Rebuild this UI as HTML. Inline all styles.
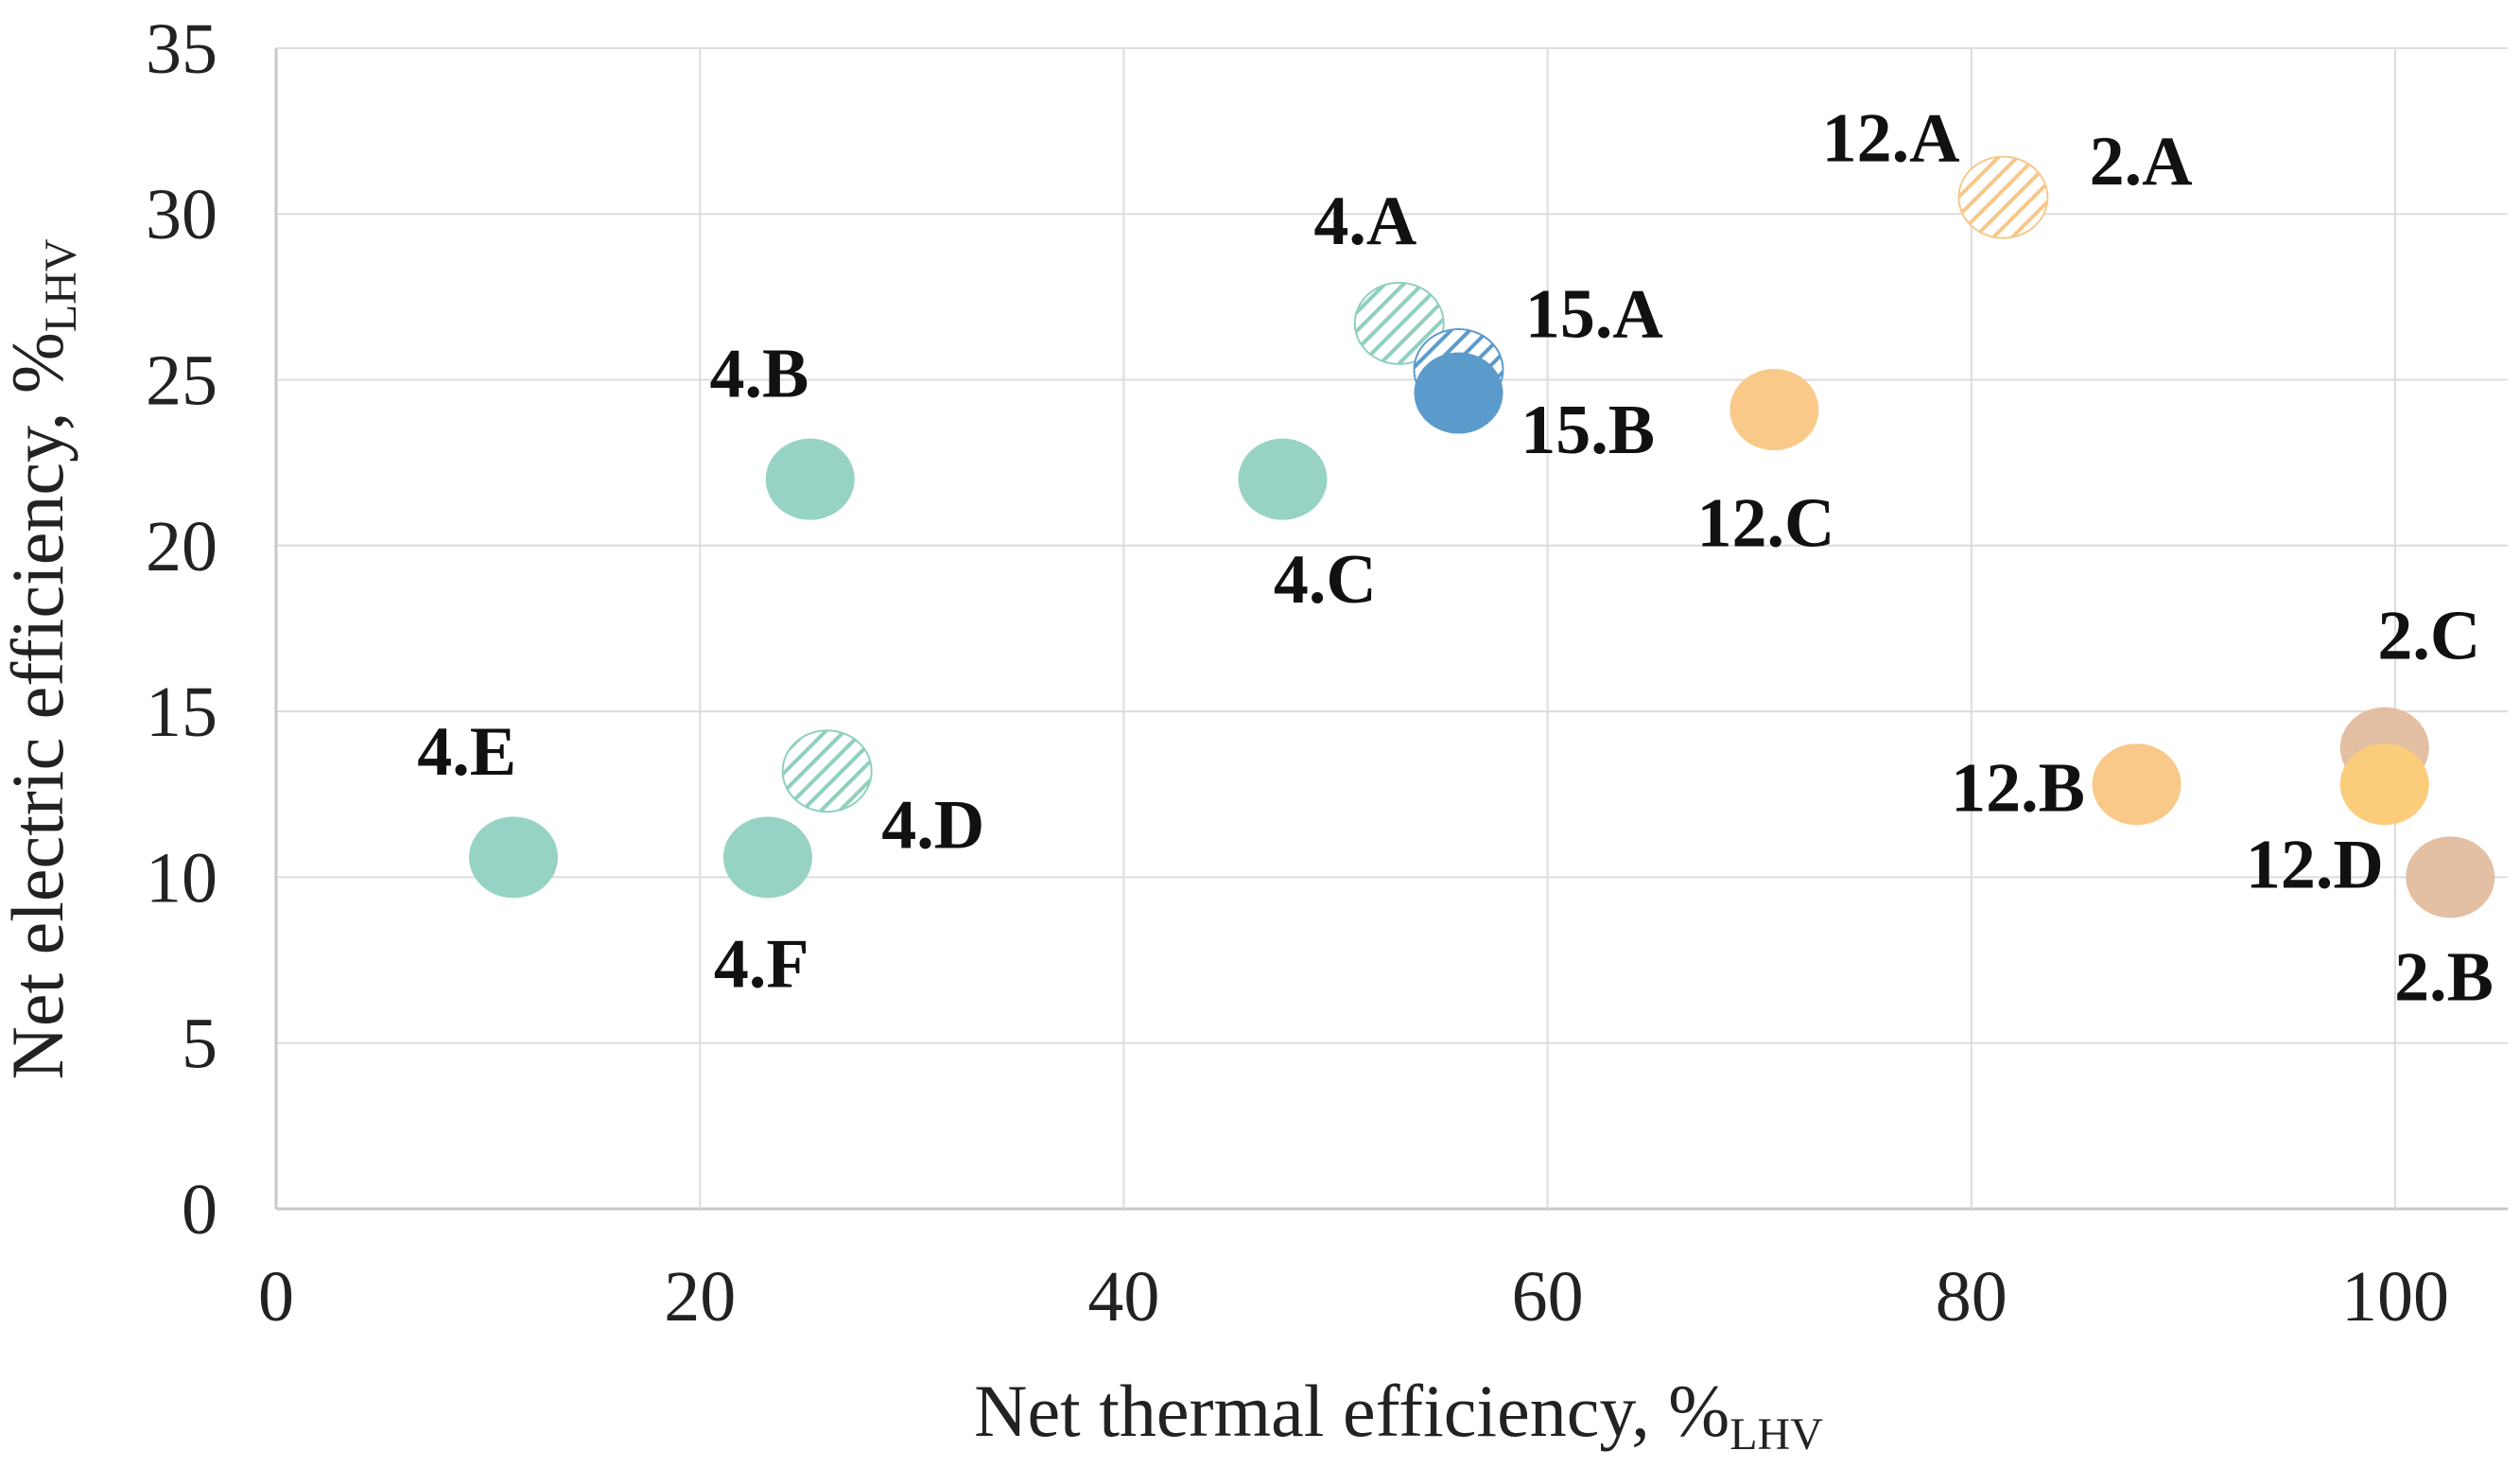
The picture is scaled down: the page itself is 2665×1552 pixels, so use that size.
<!DOCTYPE html>
<html><head><meta charset="utf-8"><style>
html,body{margin:0;padding:0;background:#fff;}
svg{display:block;font-family:"Liberation Serif",serif;}
</style></head><body>
<svg id="chart" width="2665" height="1552" viewBox="0 0 2665 1552" xmlns="http://www.w3.org/2000/svg">
<defs>
<pattern id="hatch-teal" patternUnits="userSpaceOnUse" width="14" height="14" patternTransform="rotate(45)"><rect width="14" height="14" fill="#fff"/><rect x="0" y="0" width="4" height="14" fill="#8fd0bf"/></pattern>
<pattern id="hatch-blue" patternUnits="userSpaceOnUse" width="14" height="14" patternTransform="rotate(45)"><rect width="14" height="14" fill="#fff"/><rect x="0" y="0" width="4" height="14" fill="#5b9bcb"/></pattern>
<pattern id="hatch-orange" patternUnits="userSpaceOnUse" width="14" height="14" patternTransform="rotate(45)"><rect width="14" height="14" fill="#fff"/><rect x="0" y="0" width="4" height="14" fill="#f6c88a"/></pattern>
</defs>
<g id="grid"></g>
<g id="points"></g>
<g id="labels"></g>
<text x="1479" y="1518" font-size="78" text-anchor="middle" fill="#222">Net thermal efficiency,  %<tspan font-size="48" dy="14">LHV</tspan></text>
<text transform="translate(66,697) rotate(-90)" font-size="78" text-anchor="middle" fill="#222">Net electric efficiency,  %<tspan font-size="48" dy="14">LHV</tspan></text>
</svg>
<script>
const xTicks = [0, 20, 40, 60, 80, 100];
const yTicks = [0, 5, 10, 15, 20, 25, 30, 35];
const names = ["4.E","4.F","4.D","4.B","4.C","4.A","15.A","15.B","12.C","12.A","12.B","2.C","12.D","2.B"];
const xVals = [11.2, 23.2, 26.0, 25.2, 47.5, 53.0, 55.8, 55.8, 70.7, 81.5, 87.8, 99.5, 99.5, 102.6];
const yVals = [10.6, 10.6, 13.2, 22.0, 22.0, 26.7, 25.3, 24.6, 24.1, 30.5, 12.8, 13.9, 12.8, 10.0];
const fills = ["#97d3c4","#97d3c4","url(#hatch-teal)","#97d3c4","#97d3c4","url(#hatch-teal)","url(#hatch-blue)","#5b9bcb","#f9c989","url(#hatch-orange)","#f9c989","#e3bfa3","#fbcd7a","#e3bfa3"];
const strokes = ["none","none","#8fd0bf","none","none","#8fd0bf","#5b9bcb","none","none","#f6c88a","none","none","none","none"];
const labelNames = ["4.E","4.F","4.D","4.B","4.C","4.A","15.A","15.B","12.C","12.A","2.A","12.B","2.C","12.D","2.B"];
const labelX = [9.0, 22.9, 31.0, 22.8, 49.5, 51.4, 62.2, 61.9, 70.3, 76.2, 88.0, 82.2, 101.6, 96.2, 102.3];
const labelY = [13.8, 7.4, 11.6, 25.2, 19.0, 29.8, 27.0, 23.5, 20.7, 32.3, 31.6, 12.7, 17.3, 10.4, 7.0];

const NS = "http://www.w3.org/2000/svg";
const X0 = 292, XS = 22.41, Y0 = 1278, YS = 35.06, XR = 2652;
const sx = v => X0 + v * XS;
const sy = v => Y0 - v * YS;
function mk(tag, attrs, parent) {
  const e = document.createElementNS(NS, tag);
  for (const k in attrs) e.setAttribute(k, attrs[k]);
  parent.appendChild(e);
  return e;
}
const grid = document.getElementById('grid');
yTicks.forEach(t => {
  const l = mk('line', {x1: X0, x2: XR, y1: sy(t), y2: sy(t), stroke: t === 0 ? '#c8c8c8' : '#dcdcdc', 'stroke-width': t === 0 ? 3 : 2}, grid);
  
  
  const tx = mk('text', {x: 230, y: sy(t) + 26, 'font-size': 76, 'text-anchor': 'end', fill: '#222'}, grid);
  tx.textContent = t;
  
  
});
xTicks.forEach(t => {
  const l = mk('line', {x1: sx(t), x2: sx(t), y1: sy(35), y2: Y0, stroke: t === 0 ? '#c8c8c8' : '#dcdcdc', 'stroke-width': t === 0 ? 3 : 2}, grid);
  
  
  const tx = mk('text', {x: sx(t), y: 1396, 'font-size': 76, 'text-anchor': 'middle', fill: '#222'}, grid);
  tx.textContent = t;
  
  
});
const pts = document.getElementById('points');
names.forEach((n, i) => {
  const c = mk('ellipse', {cx: sx(xVals[i]), cy: sy(yVals[i]), rx: 47, ry: 43, fill: fills[i], stroke: strokes[i], 'stroke-width': 2}, pts);
  
  
});
const labs = document.getElementById('labels');
labelNames.forEach((n, i) => {
  const t = mk('text', {x: sx(labelX[i]), y: sy(labelY[i]) + 25, 'font-size': 74, 'font-weight': 'bold', 'text-anchor': 'middle', fill: '#111'}, labs);
  t.textContent = n;
  
  
});
</script>
</body></html>
